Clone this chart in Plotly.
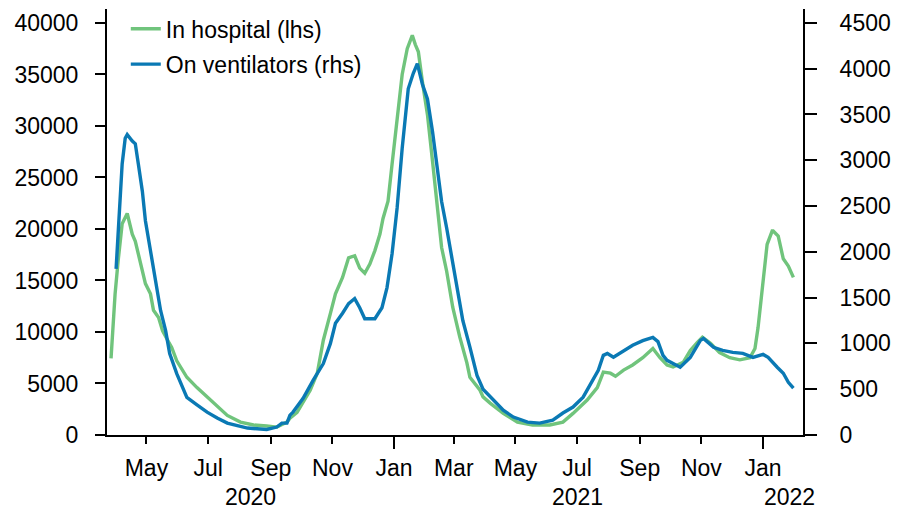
import plotly.graph_objects as go

# ---- data ----
hosp_dates = [
    "2020-03-27", "2020-03-31", "2020-04-03", "2020-04-07", "2020-04-12", "2020-04-17",
    "2020-04-20", "2020-04-25", "2020-04-30", "2020-05-05", "2020-05-08", "2020-05-13",
    "2020-05-17", "2020-05-22", "2020-05-26", "2020-05-31", "2020-06-10", "2020-06-20",
    "2020-06-30", "2020-07-10", "2020-07-20", "2020-08-02", "2020-08-15", "2020-08-28",
    "2020-09-07", "2020-09-17", "2020-09-20", "2020-09-27", "2020-09-30", "2020-10-10",
    "2020-10-17", "2020-10-23", "2020-10-30", "2020-11-04", "2020-11-11", "2020-11-17",
    "2020-11-23", "2020-11-28", "2020-12-03", "2020-12-08", "2020-12-13", "2020-12-18",
    "2020-12-21", "2020-12-26", "2020-12-30", "2021-01-04", "2021-01-09", "2021-01-14",
    "2021-01-19", "2021-01-22", "2021-01-25", "2021-01-29", "2021-02-03", "2021-02-08",
    "2021-02-13", "2021-02-17", "2021-02-22", "2021-02-28", "2021-03-07", "2021-03-14",
    "2021-03-17", "2021-03-22", "2021-03-27", "2021-03-30", "2021-04-06", "2021-04-19",
    "2021-05-03", "2021-05-18", "2021-06-04", "2021-06-17", "2021-06-27", "2021-07-11",
    "2021-07-21", "2021-07-27", "2021-08-03", "2021-08-08", "2021-08-16", "2021-08-25",
    "2021-09-04", "2021-09-14", "2021-09-19", "2021-09-21", "2021-09-28", "2021-10-04",
    "2021-10-14", "2021-10-21", "2021-10-28", "2021-11-02", "2021-11-10", "2021-11-19",
    "2021-11-29", "2021-12-09", "2021-12-19", "2021-12-24", "2021-12-27", "2021-12-31",
    "2022-01-05", "2022-01-10", "2022-01-11", "2022-01-16", "2022-01-21", "2022-01-26",
    "2022-01-31",
]
in_hospital = [
    7440, 13700, 16900, 20500, 21500, 19500,
    18800, 16600, 14700, 13700, 12100, 11400,
    10100, 9200, 8500, 7200, 5600, 4600,
    3700, 2700, 1900, 1250, 970, 870,
    770, 1250, 1640, 2200, 2700, 4350,
    6000, 9200, 11800, 13700, 15300, 17200,
    17400, 16200, 15700, 16600, 17900, 19500,
    21000, 22700, 26300, 30400, 35000, 37500,
    38800, 37900, 37200, 34300, 31100, 26600,
    22000, 18200, 15900, 12400, 9500, 7000,
    5600, 5000, 4350, 3700, 3100, 2100,
    1250, 970, 970, 1250, 2100, 3400,
    4600, 6100, 6000, 5700, 6300, 6800,
    7500, 8400, 7700, 7500, 6800, 6600,
    7050, 8200, 9000, 9500, 8900, 8000,
    7500, 7300, 7500, 8400, 10400, 14300,
    18500, 19800, 19800, 19300, 17100, 16400,
    15300,
]

vent_dates = [
    "2020-04-01", "2020-04-03", "2020-04-07", "2020-04-10", "2020-04-12", "2020-04-17",
    "2020-04-20", "2020-04-23", "2020-04-27", "2020-04-30", "2020-05-05", "2020-05-10",
    "2020-05-15", "2020-05-20", "2020-05-24", "2020-05-31", "2020-06-10", "2020-06-20",
    "2020-06-30", "2020-07-10", "2020-07-20", "2020-08-09", "2020-08-28", "2020-09-07",
    "2020-09-12", "2020-09-17", "2020-09-20", "2020-09-23", "2020-10-03", "2020-10-13",
    "2020-10-23", "2020-10-30", "2020-11-04", "2020-11-11", "2020-11-17", "2020-11-23",
    "2020-11-28", "2020-12-03", "2020-12-13", "2020-12-20", "2020-12-25", "2020-12-30",
    "2021-01-04", "2021-01-09", "2021-01-15", "2021-01-20", "2021-01-24", "2021-01-29",
    "2021-02-03", "2021-02-08", "2021-02-13", "2021-02-17", "2021-02-22", "2021-02-27",
    "2021-03-04", "2021-03-10", "2021-03-17", "2021-03-24", "2021-03-30", "2021-04-09",
    "2021-04-19", "2021-04-29", "2021-05-13", "2021-05-25", "2021-06-07", "2021-06-17",
    "2021-06-27", "2021-07-07", "2021-07-17", "2021-07-22", "2021-07-27", "2021-07-31",
    "2021-08-06", "2021-08-16", "2021-08-25", "2021-09-04", "2021-09-14", "2021-09-19",
    "2021-09-21", "2021-09-24", "2021-09-28", "2021-10-04", "2021-10-11", "2021-10-21",
    "2021-10-31", "2021-11-03", "2021-11-13", "2021-11-22", "2021-12-02", "2021-12-12",
    "2021-12-22", "2022-01-01", "2022-01-06", "2022-01-15", "2022-01-21", "2022-01-26",
    "2022-01-31",
]
on_ventilators = [
    1815, 2230, 2960, 3240, 3280, 3210,
    3180, 2960, 2660, 2340, 2010, 1650,
    1360, 1140, 890, 670, 410, 330,
    250, 185, 130, 76, 60, 87,
    130, 130, 217, 250, 400, 600,
    780, 1000, 1220, 1330, 1435, 1490,
    1390, 1270, 1270, 1390, 1610, 1980,
    2480, 3130, 3780, 3950, 4055, 3830,
    3670, 3315, 2910, 2550, 2260, 1935,
    1610, 1250, 960, 650, 500, 380,
    270, 196, 141, 130, 163, 240,
    305, 413, 600, 706, 870, 890,
    850, 924, 980, 1030, 1065, 1020,
    957, 870, 815, 783, 740, 848,
    1033, 1054, 957, 924, 902, 891,
    848, 880, 848, 740, 674, 576,
    511,
]

month_ticks = ["2020-05-01", "2020-07-01", "2020-09-01", "2020-11-01", "2021-01-01",
               "2021-03-01", "2021-05-01", "2021-07-01", "2021-09-01", "2021-11-01",
               "2022-01-01"]
month_labels = ["May", "Jul", "Sep", "Nov", "Jan", "Mar", "May", "Jul", "Sep", "Nov", "Jan"]
year_ticks = ["2021-01-01", "2022-01-01"]
year_labels = ["2020", "2021", "2022"]
year_label_pos = ["2020-08-12", "2021-07-01", "2022-01-27"]

left_ticks = [0, 5000, 10000, 15000, 20000, 25000, 30000, 35000, 40000]
left_labels = [str(v) for v in left_ticks]
right_ticks = [0, 500, 1000, 1500, 2000, 2500, 3000, 3500, 4000, 4500]
right_labels = [str(v) for v in right_ticks]

GREEN = "#70C47C"
BLUE = "#0A79B4"
FONT = "Liberation Sans, Arial, sans-serif"
FS = 23
x_range = ["2020-03-23", "2022-02-09 12:00"]

fig = go.Figure()
fig.add_trace(go.Scatter(x=hosp_dates, y=in_hospital, mode="lines",
                         name="In hospital (lhs)", line=dict(color=GREEN, width=3.4),
                         xaxis="x", yaxis="y", legend="legend"))
fig.add_trace(go.Scatter(x=vent_dates, y=on_ventilators, mode="lines",
                         name="On ventilators (rhs)", line=dict(color=BLUE, width=3.4),
                         xaxis="x2", yaxis="y2", legend="legend2"))

for lbl, pos in zip(year_labels, year_label_pos):
    fig.add_annotation(x=pos, y=-0.145, xref="x", yref="paper", text=lbl,
                       showarrow=False, yanchor="middle", xanchor="center",
                       font=dict(size=FS, color="black", family=FONT))

leg_common = dict(xanchor="left", yanchor="top", bgcolor="rgba(0,0,0,0)",
                  font=dict(size=FS, family=FONT, color="black"))

fig.update_layout(
    width=899, height=512,
    margin=dict(l=107, r=96, t=7, b=77),
    paper_bgcolor="white", plot_bgcolor="white",
    font=dict(family=FONT, size=FS, color="black"),
    showlegend=True,
    hovermode=False,
    legend=dict(x=0.027, y=1.004, **leg_common),
    legend2=dict(x=0.027, y=0.921, **leg_common),
    xaxis=dict(type="date", range=x_range, tickvals=month_ticks, ticktext=month_labels,
               ticks="outside", ticklen=7, tickwidth=2, tickcolor="black",
               showline=True, linecolor="black", linewidth=2, showgrid=False,
               zeroline=False, tickfont=dict(size=FS), ticklabelstandoff=4),
    xaxis2=dict(type="date", range=x_range, overlaying="x", anchor="y2", side="bottom",
                tickvals=year_ticks, ticks="outside", ticklen=13, tickwidth=2,
                tickcolor="black", showticklabels=False, showline=False,
                showgrid=False, zeroline=False),
    yaxis=dict(range=[0, 41353], tickvals=left_ticks, ticktext=left_labels,
               ticks="outside", ticklen=10, tickwidth=2, tickcolor="black",
               showline=True, linecolor="black", linewidth=2, showgrid=False,
               zeroline=False, tickfont=dict(size=FS), ticklabelstandoff=12),
    yaxis2=dict(range=[0, 4652], tickvals=right_ticks, ticktext=right_labels,
                overlaying="y", side="right", anchor="x2", ticks="outside", ticklen=12,
                tickwidth=2, tickcolor="black", showline=True, linecolor="black",
                linewidth=2, showgrid=False, zeroline=False, tickfont=dict(size=FS),
                ticklabelstandoff=18),
)

fig.write_html("out.html", config={"displayModeBar": False},
               post_script="document.body.style.margin='0';")
